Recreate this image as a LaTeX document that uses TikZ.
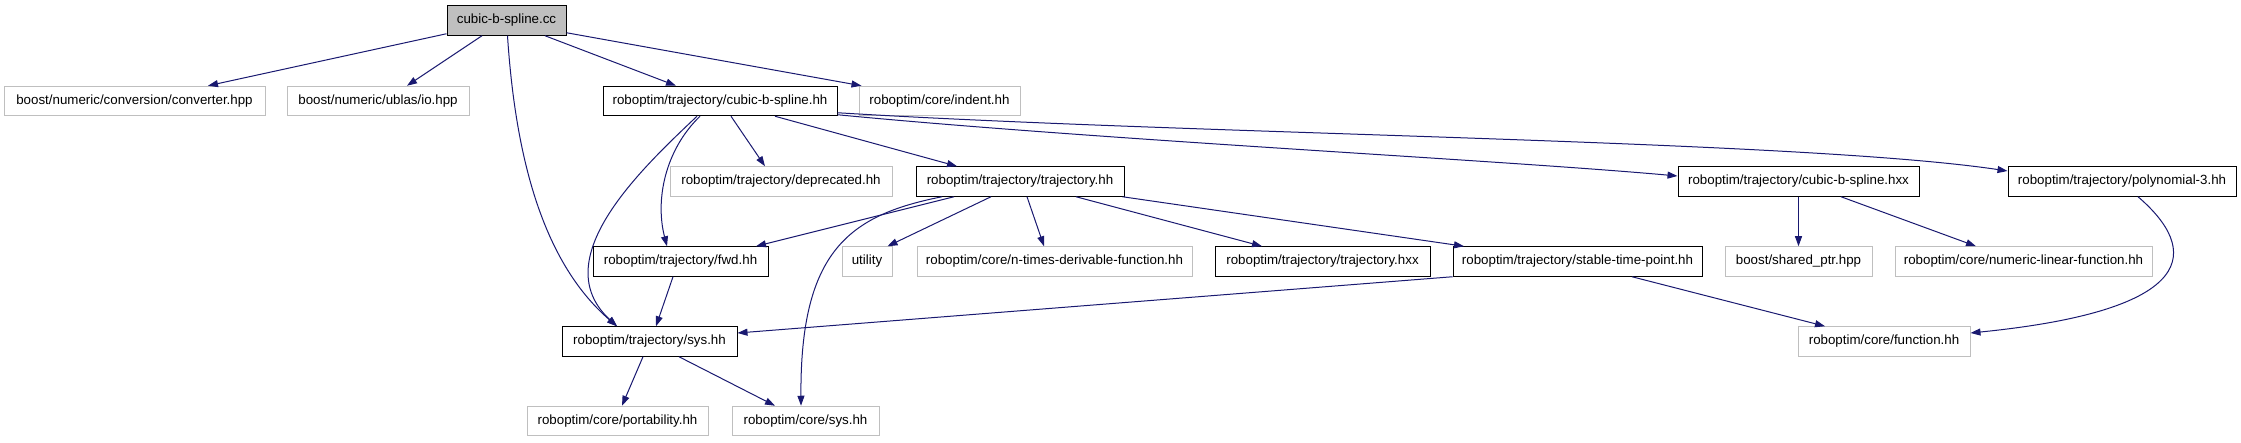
\documentclass[tikz,border=0pt]{standalone}
\usepackage{fontspec}
\setmainfont{Liberation Sans}
\usetikzlibrary{arrows.meta}
\definecolor{edgeblue}{HTML}{191970}
\definecolor{lightgrey}{HTML}{BFBFBF}
\tikzset{
  box/.style={draw=black, line width=1pt, rectangle, minimum height=29.5pt, inner xsep=2pt, inner ysep=0pt, font=\fontsize{13.33pt}{16pt}\selectfont},
  extbox/.style={box, draw=lightgrey},
  rootbox/.style={box, fill=lightgrey},
  edge/.style={draw=edgeblue, line width=1pt, -{Triangle[length=10pt,width=7pt]}}
}
\begin{document}
\begin{tikzpicture}[x=1pt,y=-1pt]
\useasboundingbox (0,0) rectangle (2241,443);
% row 1
\node[rootbox, minimum width=119pt] (cc) at (506.5,20.5) {cubic-b-spline.cc};
% row 2
\node[extbox, minimum width=261pt] (conv) at (134.5,101) {boost/numeric/conversion/converter.hpp};
\node[extbox, minimum width=182pt] (io) at (378,101) {boost/numeric/ublas/io.hpp};
\node[box, minimum width=234pt] (cbs) at (720,101) {roboptim/trajectory/cubic-b-spline.hh};
\node[extbox, minimum width=161pt] (indent) at (939.5,101) {roboptim/core/indent.hh};
% row 3
\node[extbox, minimum width=222pt] (dep) at (781,181.5) {roboptim/trajectory/deprecated.hh};
\node[box, minimum width=208pt] (traj) at (1020,181.5) {roboptim/trajectory/trajectory.hh};
\node[box, minimum width=241pt] (cbshxx) at (1798.5,181.5) {roboptim/trajectory/cubic-b-spline.hxx};
\node[box, minimum width=228pt] (poly) at (2122,181.5) {roboptim/trajectory/polynomial-3.hh};
% row 4
\node[box, minimum width=175pt] (fwd) at (680.5,261.5) {roboptim/trajectory/fwd.hh};
\node[extbox, minimum width=50pt] (util) at (867,261.5) {utility};
\node[extbox, minimum width=275pt] (ntimes) at (1054.5,261.5) {roboptim/core/n-times-derivable-function.hh};
\node[box, minimum width=215pt] (trajhxx) at (1322.5,261.5) {roboptim/trajectory/trajectory.hxx};
\node[box, minimum width=249pt] (stable) at (1577.5,261.5) {roboptim/trajectory/stable-time-point.hh};
\node[extbox, minimum width=147pt] (shared) at (1798.5,261.5) {boost/shared\_ptr.hpp};
\node[extbox, minimum width=257pt] (numlin) at (2023.5,261.5) {roboptim/core/numeric-linear-function.hh};
% row 5
\node[box, minimum width=175pt] (sys) at (649.5,341.5) {roboptim/trajectory/sys.hh};
\node[extbox, minimum width=172pt] (func) at (1884,341.5) {roboptim/core/function.hh};
% row 6
\node[extbox, minimum width=181pt] (port) at (617.5,421) {roboptim/core/portability.hh};
\node[extbox, minimum width=147pt] (coresys) at (805.5,421) {roboptim/core/sys.hh};

% edges from cc
\draw[edge] ([yshift=2pt]cc.south west) -- ([xshift=73.5pt]conv.north);
\draw[edge] ([xshift=-24.5pt]cc.south) -- ([xshift=29pt]io.north);
\draw[edge] ([xshift=38.5pt]cc.south) -- ([xshift=-44pt]cbs.north);
\draw[edge] ([yshift=3pt]cc.south east) -- ([xshift=3pt]indent.north west);
\draw[edge] ([xshift=1pt]cc.south) .. controls (515,150) and (540,260) .. ([xshift=-32.5pt]sys.north);
% edges from cubic-b-spline.hh
\draw[edge] ([xshift=-23pt]cbs.south) .. controls (640,170) and (545,260) .. ([xshift=-32.5pt]sys.north);
\draw[edge] ([xshift=-20pt]cbs.south) .. controls (665,150) and (655,200) .. ([xshift=-13.5pt]fwd.north);
\draw[edge] ([xshift=11pt]cbs.south) -- ([xshift=-16pt]dep.north);
\draw[edge] ([xshift=55pt]cbs.south) -- ([xshift=-63pt]traj.north);
\draw[edge] ([yshift=1.5pt]cbs.south east) .. controls (1100,140) and (1500,160) .. ([yshift=5.5pt]cbshxx.west);
\draw[edge] ([yshift=3.5pt]cbs.south east) .. controls (1200,135) and (1800,140) .. ([yshift=10.5pt]poly.west);
% edges from trajectory.hh
\draw[edge] ([xshift=-66pt]traj.south) -- ([xshift=75.5pt]fwd.north);
\draw[edge] ([xshift=-78pt]traj.south) .. controls (850,215) and (800,250) .. ([xshift=-4.5pt]coresys.north);
\draw[edge] ([xshift=-29pt]traj.south) -- ([xshift=-5pt]util.north east);
\draw[edge] ([xshift=7pt]traj.south) -- ([xshift=-10.5pt]ntimes.north);
\draw[edge] ([xshift=56pt]traj.south) -- ([xshift=-60.5pt]trajhxx.north);
\draw[edge] ([xshift=-2pt]traj.south east) -- ([xshift=-113.5pt]stable.north);
% others
\draw[edge] ([xshift=-7.5pt]fwd.south) -- ([xshift=6.5pt]sys.north);
\draw[edge] (stable.south west) -- ([yshift=8.5pt]sys.east);
\draw[edge] ([xshift=54.5pt]stable.south) -- ([xshift=-59pt]func.north);
\draw[edge] (cbshxx.south) -- (shared.north);
\draw[edge] ([xshift=42.5pt]cbshxx.south) -- ([xshift=-47.5pt]numlin.north);
\draw[edge] ([xshift=16pt]poly.south) .. controls (2200,250) and (2200,310) .. ([yshift=8.5pt]func.east);
\draw[edge] ([xshift=-6.5pt]sys.south) -- ([xshift=4.5pt]port.north);
\draw[edge] ([xshift=29.5pt]sys.south) -- ([xshift=-30.5pt]coresys.north);
\end{tikzpicture}
\end{document}
